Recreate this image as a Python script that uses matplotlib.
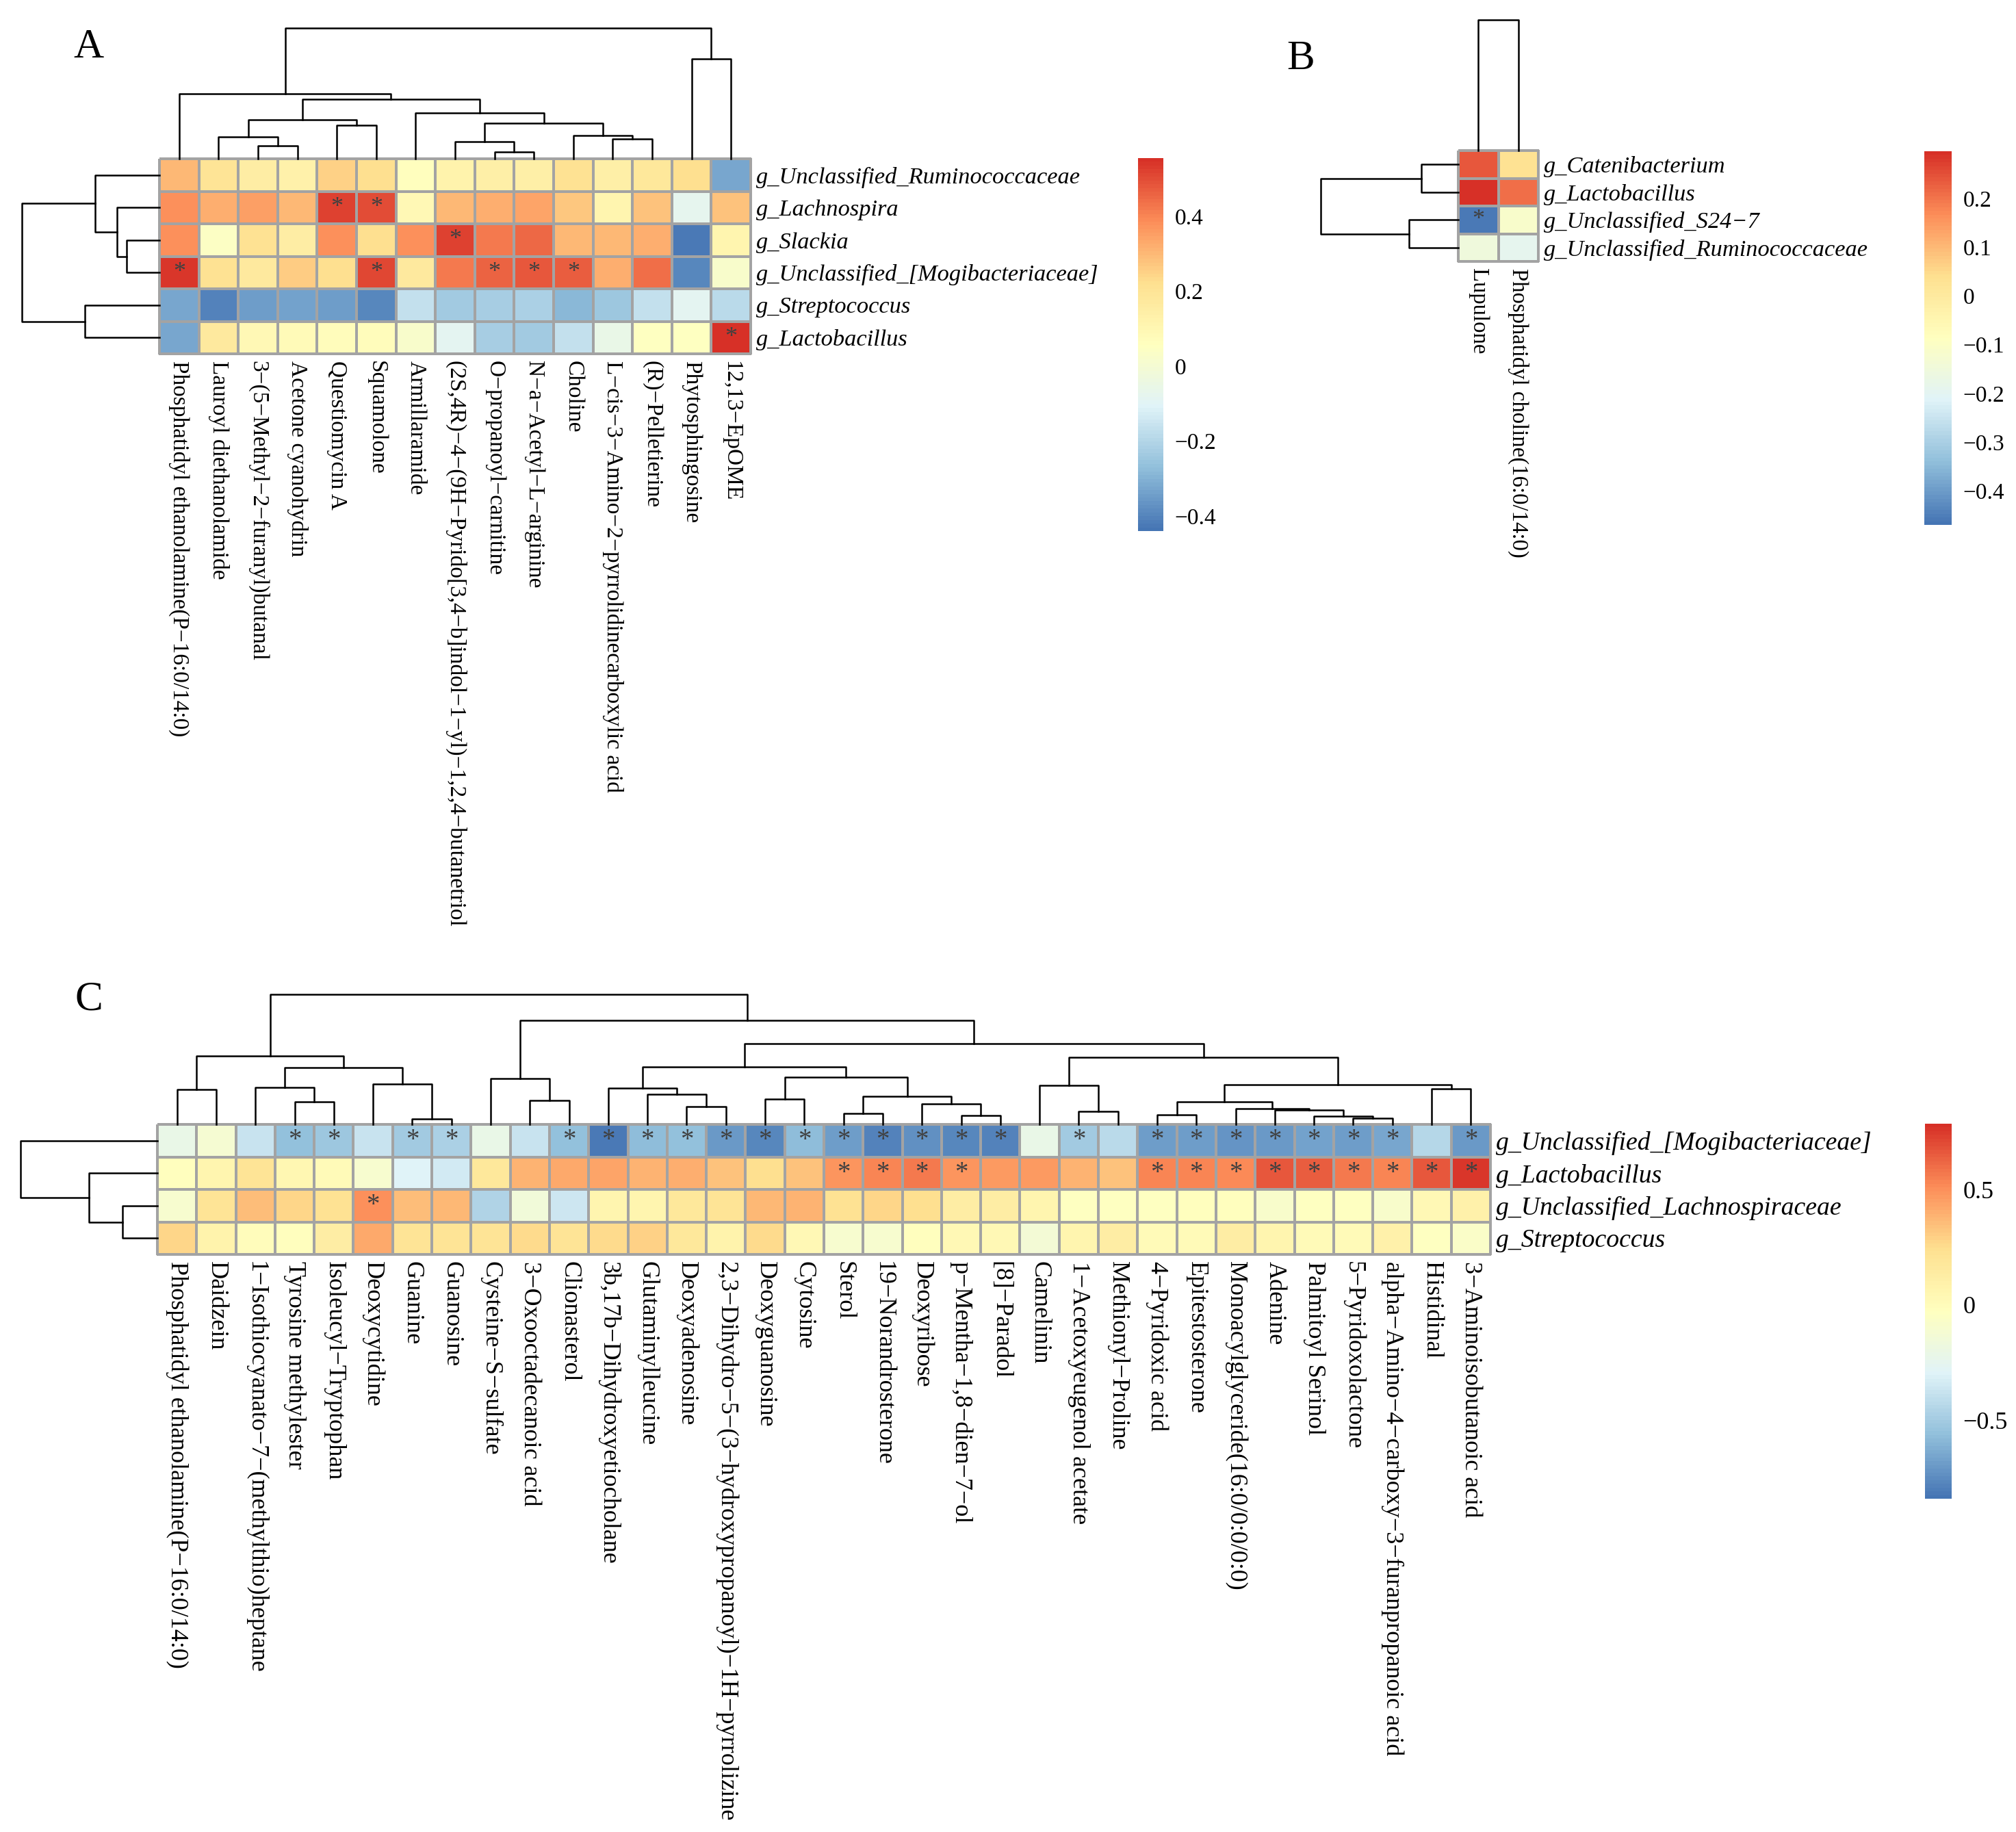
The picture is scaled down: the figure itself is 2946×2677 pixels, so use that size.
import numpy as np
import matplotlib
matplotlib.use("Agg")
import matplotlib.pyplot as plt
import matplotlib.cm as cm
from matplotlib.colors import LinearSegmentedColormap, Normalize

# ---------------- data ----------------
A_rows = ["g_Unclassified_Ruminococcaceae", "g_Lachnospira", "g_Slackia",
          "g_Unclassified_[Mogibacteriaceae]", "g_Streptococcus", "g_Lactobacillus"]
A_cols = ["Phosphatidyl ethanolamine(P−16:0/14:0)", "Lauroyl diethanolamide",
          "3−(5−Methyl−2−furanyl)butanal", "Acetone cyanohydrin", "Questiomycin A",
          "Squamolone", "Armillaramide",
          "(2S,4R)−4−(9H−Pyrido[3,4−b]indol−1−yl)−1,2,4−butanetriol",
          "O−propanoyl−carnitine", "N−a−Acetyl−L−arginine", "Choline",
          "L−cis−3−Amino−2−pyrrolidinecarboxylic acid", "(R)−Pelletierine",
          "Phytosphingosine", "12,13−EpOME"]
A_vals = [
    [0.30, 0.20, 0.15, 0.13, 0.25, 0.22, 0.06, 0.12, 0.14, 0.14, 0.21, 0.14, 0.18, 0.22, -0.33],
    [0.38, 0.32, 0.35, 0.30, 0.52, 0.50, 0.09, 0.30, 0.32, 0.34, 0.27, 0.11, 0.28, -0.08, 0.28],
    [0.38, 0.04, 0.21, 0.15, 0.38, 0.22, 0.38, 0.52, 0.42, 0.45, 0.30, 0.30, 0.32, -0.43, 0.11],
    [0.54, 0.21, 0.17, 0.26, 0.22, 0.51, 0.17, 0.42, 0.46, 0.48, 0.47, 0.32, 0.44, -0.40, 0.02],
    [-0.33, -0.41, -0.35, -0.34, -0.35, -0.40, -0.17, -0.24, -0.23, -0.22, -0.29, -0.25, -0.17, -0.09, -0.19],
    [-0.33, 0.17, 0.09, 0.08, 0.07, 0.07, 0.02, -0.09, -0.23, -0.24, -0.17, -0.06, 0.05, 0.05, 0.55],
]
A_stars = [(1, 4), (1, 5), (2, 7), (3, 0), (3, 5), (3, 8), (3, 9), (3, 10), (5, 14)]
# dendrogram merges: (left id, right id, height); ids >= n refer to earlier merges
A_col_tree = [(2, 3, 0.10), (1, 15, 0.167), (4, 5, 0.257), (16, 17, 0.297),
              (8, 9, 0.053), (7, 19, 0.13), (11, 12, 0.154), (10, 21, 0.18),
              (20, 22, 0.27), (6, 23, 0.35), (18, 24, 0.457), (0, 25, 0.496),
              (13, 14, 0.765), (26, 27, 1.0)]
A_row_tree = [(2, 3, 0.24), (1, 6, 0.31), (0, 7, 0.467), (4, 5, 0.544), (8, 9, 1.0)]
A_range = (-0.44, 0.555)
A_ticks = [0.4, 0.2, 0, -0.2, -0.4]
A_ticklabels = ["0.4", "0.2", "0", "−0.2", "−0.4"]

B_rows = ["g_Catenibacterium", "g_Lactobacillus", "g_Unclassified_S24−7",
          "g_Unclassified_Ruminococcaceae"]
B_cols = ["Lupulone", "Phosphatidyl choline(16:0/14:0)"]
B_vals = [
    [0.24, 0.03],
    [0.29, 0.21],
    [-0.46, -0.11],
    [-0.15, -0.19],
]
B_stars = [(2, 0)]
B_col_tree = [(0, 1, 1.0)]
B_row_tree = [(0, 1, 0.27), (2, 3, 0.36), (4, 5, 1.0)]
B_range = (-0.47, 0.297)
B_ticks = [0.2, 0.1, 0, -0.1, -0.2, -0.3, -0.4]
B_ticklabels = ["0.2", "0.1", "0", "−0.1", "−0.2", "−0.3", "−0.4"]

C_rows = ["g_Unclassified_[Mogibacteriaceae]", "g_Lactobacillus",
          "g_Unclassified_Lachnospiraceae", "g_Streptococcus"]
C_cols = ["Phosphatidyl ethanolamine(P−16:0/14:0)", "Daidzein",
          "1−Isothiocyanato−7−(methylthio)heptane", "Tyrosine methylester",
          "Isoleucyl−Tryptophan", "Deoxycytidine", "Guanine", "Guanosine",
          "Cysteine−S−sulfate", "3−Oxooctadecanoic acid", "Clionasterol",
          "3b,17b−Dihydroxyetiocholane", "Glutaminylleucine", "Deoxyadenosine",
          "2,3−Dihydro−5−(3−hydroxypropanoyl)−1H−pyrrolizine", "Deoxyguanosine",
          "Cytosine", "Sterol", "19−Norandrosterone", "Deoxyribose",
          "p−Mentha−1,8−dien−7−ol", "[8]−Paradol", "Camelinin",
          "1−Acetoxyeugenol acetate", "Methionyl−Proline", "4−Pyridoxic acid",
          "Epitestosterone", "Monoacylglyceride(16:0/0:0/0:0)", "Adenine",
          "Palmitoyl Serinol", "5−Pyridoxolactone",
          "alpha−Amino−4−carboxy−3−furanpropanoic acid", "Histidinal",
          "3−Aminoisobutanoic acid"]
C_vals = [
    [-0.22, -0.12, -0.37, -0.55, -0.52, -0.37, -0.50, -0.48, -0.22, -0.38, -0.55, -0.82,
     -0.58, -0.56, -0.70, -0.77, -0.57, -0.68, -0.78, -0.73, -0.77, -0.78, -0.22, -0.51,
     -0.42, -0.68, -0.68, -0.72, -0.70, -0.67, -0.68, -0.65, -0.44, -0.70],
    [-0.02, 0.06, 0.20, 0.05, 0.02, -0.10, -0.29, -0.35, 0.18, 0.38, 0.42, 0.43,
     0.39, 0.40, 0.34, 0.24, 0.33, 0.48, 0.53, 0.56, 0.49, 0.46, 0.46, 0.38,
     0.33, 0.53, 0.53, 0.52, 0.67, 0.64, 0.57, 0.54, 0.67, 0.76],
    [-0.10, 0.20, 0.36, 0.28, 0.22, 0.50, 0.36, 0.37, -0.45, -0.15, -0.36, 0.06,
     0.06, 0.17, 0.20, 0.37, 0.38, 0.23, 0.27, 0.24, 0.13, 0.13, 0.06, -0.04,
     -0.04, -0.03, -0.02, -0.02, -0.09, -0.04, -0.04, -0.09, 0.03, 0.10],
    [0.28, 0.08, 0.00, -0.02, 0.12, 0.42, 0.20, 0.20, 0.21, 0.26, 0.20, 0.26,
     0.29, 0.17, 0.08, 0.26, 0.03, -0.10, -0.10, -0.02, 0.03, 0.03, -0.13, 0.06,
     0.12, 0.02, 0.02, 0.12, 0.06, 0.02, 0.02, 0.09, -0.04, -0.07],
]
C_stars = ([(0, c) for c in [3, 4, 6, 7, 10, 11, 12, 13, 14, 15, 16, 17, 18, 19, 20, 21,
                             23, 25, 26, 27, 28, 29, 30, 31, 33]]
           + [(1, c) for c in [17, 18, 19, 20, 25, 26, 27, 28, 29, 30, 31, 32, 33]]
           + [(2, 5)])
C_col_tree = [(0, 1, 0.268), (3, 4, 0.172), (2, 35, 0.286), (6, 7, 0.044),
              (5, 37, 0.312), (36, 38, 0.435), (34, 39, 0.528), (9, 10, 0.186),
              (8, 41, 0.351), (13, 14, 0.137), (12, 43, 0.233), (11, 44, 0.277),
              (15, 16, 0.193), (17, 18, 0.084), (20, 21, 0.067), (19, 48, 0.158),
              (47, 49, 0.216), (46, 50, 0.361), (45, 51, 0.444), (23, 24, 0.102),
              (22, 53, 0.298), (25, 26, 0.075), (30, 31, 0.046), (29, 56, 0.063),
              (28, 57, 0.111), (27, 58, 0.123), (55, 59, 0.172), (32, 33, 0.274),
              (60, 61, 0.307), (54, 62, 0.514), (52, 63, 0.623), (42, 64, 0.798),
              (40, 65, 1.0)]
C_row_tree = [(2, 3, 0.255), (1, 4, 0.5), (0, 5, 1.0)]
C_range = (-0.84, 0.785)
C_ticks = [0.5, 0, -0.5]
C_ticklabels = ["0.5", "0", "−0.5"]

# ---------------- drawing ----------------
W, H = 2946, 2677
DPI = 200
plt.rcParams['font.family'] = ['Liberation Serif', 'DejaVu Serif']

palette = ["#4575B4", "#91BFDB", "#E0F3F8", "#FFFFBF", "#FEE090", "#FC8D59", "#D73027"]
cmap = LinearSegmentedColormap.from_list("pheat", palette, N=100)

fig = plt.figure(figsize=(W / DPI, H / DPI), dpi=DPI)

LW = 0.9


def box(l, t, r, b):
    """axes from pixel box (left, top, right, bottom)"""
    return fig.add_axes([l / W, 1 - b / H, (r - l) / W, (b - t) / H])


def tree_segments(n, merges):
    pos = [i + 0.5 for i in range(n)]
    hts = [0.0] * n
    segs = []
    for a, b, h in merges:
        segs.append((pos[a], hts[a], pos[b], hts[b], h))
        pos.append((pos[a] + pos[b]) / 2)
        hts.append(h)
    return segs


def col_dendro(ax, n, merges):
    for xa, ha, xb, hb, h in tree_segments(n, merges):
        ax.plot([xa, xa, xb, xb], [ha, h, h, hb], color='black', lw=LW, clip_on=False)
    ax.set_xlim(0, n)
    ax.set_ylim(0, 1)
    ax.axis('off')


def row_dendro(ax, n, merges):
    for ya, ha, yb, hb, h in tree_segments(n, merges):
        ax.plot([ha, h, h, hb], [ya, ya, yb, yb], color='black', lw=LW, clip_on=False)
    ax.set_ylim(n, 0)
    ax.set_xlim(1, 0)
    ax.axis('off')


def heat(ax, vals, rows, cols, stars, vrange, col_fs=12, row_fs=12, star_fs=13):
    vals = np.array(vals)
    nr, nc = vals.shape
    norm = Normalize(*vrange)
    mesh = ax.pcolormesh(np.arange(nc + 1), np.arange(nr + 1), vals, cmap=cmap, norm=norm,
                         edgecolors='#A3A3A3', linewidth=0.75)
    mesh.set_clip_on(False)
    ax.set_xlim(0, nc)
    ax.set_ylim(nr, 0)
    for s in ax.spines.values():
        s.set_visible(False)
    ax.set_xticks(np.arange(nc) + 0.5)
    ax.set_xticklabels(cols, rotation=270, fontsize=col_fs)
    ax.yaxis.tick_right()
    ax.set_yticks(np.arange(nr) + 0.5)
    ax.set_yticklabels(rows, fontsize=row_fs, style='italic')
    ax.tick_params(axis='x', length=0, pad=3.5)
    ax.tick_params(axis='y', length=0, pad=3.0)
    for r, c in stars:
        ax.text(c + 0.5, r + 0.5, '*', ha='center', va='center', fontsize=star_fs, color='#404040')
    return norm


def legend_bar(cax, norm, ticks, labels, fs=12):
    cb = fig.colorbar(cm.ScalarMappable(norm=norm, cmap=cmap), cax=cax)
    cb.outline.set_visible(False)
    cb.set_ticks(ticks)
    cb.set_ticklabels(labels)
    cax.tick_params(length=0, labelsize=fs, pad=6)


# panel A
axA = box(233, 232, 1097, 517)
normA = heat(axA, A_vals, A_rows, A_cols, A_stars, A_range, col_fs=12, row_fs=12.4)
col_dendro(box(233, 41, 1097, 232), len(A_cols), A_col_tree)
row_dendro(box(32, 232, 233, 517), len(A_rows), A_row_tree)
legend_bar(box(1663, 231, 1700, 776), normA, A_ticks, A_ticklabels)

# panel B
axB = box(2131, 220, 2248, 382)
normB = heat(axB, B_vals, B_rows, B_cols, B_stars, B_range, col_fs=11.8, row_fs=12.4)
col_dendro(box(2131, 29, 2248, 220), len(B_cols), B_col_tree)
row_dendro(box(1930, 220, 2131, 382), len(B_rows), B_row_tree)
legend_bar(box(2812, 221, 2852, 767), normB, B_ticks, B_ticklabels)

# panel C
axC = box(230, 1643, 2178, 1833)
normC = heat(axC, C_vals, C_rows, C_cols, C_stars, C_range, col_fs=13, row_fs=13.6, star_fs=14)
col_dendro(box(230, 1453, 2178, 1643), len(C_cols), C_col_tree)
row_dendro(box(30, 1643, 230, 1833), len(C_rows), C_row_tree)
legend_bar(box(2813, 1642, 2852, 2190), normC, C_ticks, C_ticklabels, fs=13)

for letter, x, y in [("A", 107, 84), ("B", 1880, 101), ("C", 109, 1475)]:
    fig.text(x / W, 1 - y / H, letter, fontsize=22, ha='left', va='baseline')

fig.savefig("out.png", dpi=DPI, facecolor='white')
